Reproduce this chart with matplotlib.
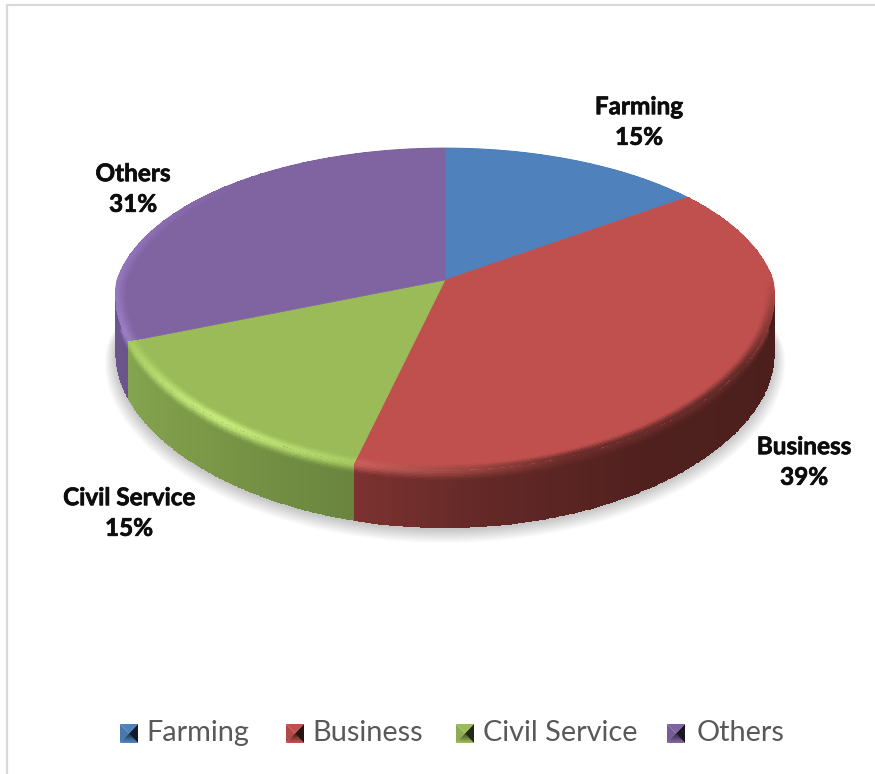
import matplotlib
matplotlib.use('Agg')
import matplotlib.pyplot as plt
import matplotlib.patheffects as pe
from matplotlib.colors import to_rgb
from matplotlib.patches import Polygon
import numpy as np

labels = ['Farming', 'Business', 'Civil Service', 'Others']
values = [15, 39, 15, 31]
top_colors = ['#4f81bd', '#c0504d', '#9bbb59', '#8064a2']

# colour along each slice's arc, clockwise: (position, colour)
rim_stops = {
    'Farming': [(0, '#4f81bd'), (1, '#4f81bd')],
    'Business': [(0, '#c0504d'), (0.25, '#c0504d'), (0.36, '#8a3936'), (0.48, '#622a28'), (0.75, '#6a2c2a'), (1, '#cc5f5b')],
    'Civil Service': [(0, '#a8cc62'), (0.45, '#c8ec7c'), (0.8, '#b4d86c'), (1, '#a8cc62')],
    'Others': [(0, '#9a7dc4'), (0.3, '#8f72b8'), (0.6, '#8064a2'), (1, '#8064a2')],
}
wall_stops = {
    'Farming': [(0, '#3a5f8c'), (1, '#3a5f8c')],
    'Business': [(0, '#4a1e1c'), (0.55, '#4f201e'), (0.8, '#622826'), (1, '#7c3230')],
    'Civil Service': [(0, '#6a843f'), (0.5, '#7a9847'), (1, '#86a54f')],
    'Others': [(0, '#6a5489'), (1, '#6f588f')],
}

label_pos = [(639, 122), (804, 462), (129, 513), (133, 189)]
legend_x = [120, 286, 456, 667]
legend_text_x = [146, 312, 483, 697]

W, H = 875, 774
CX, CY = 445, 280
K = 0.18
HY = 155.8
AX = 328.0
DEPTH = 58


def rim(theta, depth=0.0, scale=1.0):
    # perspective projection of a circle lying on the pie's top face
    c = np.cos(theta)
    w = 1 + K * c
    x = CX + scale * AX * np.sin(theta) / w ** np.where(c < 0, 0.55, 0.9)
    y = CY - scale * HY * c / w + depth
    return x, y


def ramp(u, stops):
    pos = [s[0] for s in stops]
    cols = np.array([to_rgb(s[1]) for s in stops])
    return np.stack([np.interp(u, pos, cols[:, i]) for i in range(3)], axis=-1)


def smooth(t):
    return t * t * (3 - 2 * t)


def draw_wall(ax, a0, a1, lo, hi, name):
    th = np.linspace(lo, hi, 200)
    t = np.linspace(0, 1, 41)
    T, D = np.meshgrid(th, t)
    x, y = rim(T, D * DEPTH)
    tc = (th[:-1] + th[1:]) / 2
    base = ramp((tc - lo) / (hi - lo), wall_stops[name])
    edge = ramp((tc - a0) / (a1 - a0), rim_stops[name])
    v = (t[:-1] + t[1:]) / 2
    fade = smooth(np.clip(v / 0.2, 0, 1))[:, None, None]
    rgb = edge[None, :, :] * (1 - fade) + base[None, :, :] * fade
    ax.pcolormesh(x, y, rgb, shading='flat', linewidth=0, zorder=3)


def draw_bevel(ax, a0, a1, name, top):
    # rounded edge of the top face, blending into the flat colour
    th = np.linspace(a0, a1, 200)
    s = np.linspace(0.962, 1.0, 16)
    T, S = np.meshgrid(th, s)
    x, y = rim(T, 0, S)
    tc = (th[:-1] + th[1:]) / 2
    edge = ramp((tc - a0) / (a1 - a0), rim_stops[name])
    v = smooth(np.linspace(0, 1, 15))[:, None, None]
    flat = np.array(to_rgb(top))
    rgb = flat * (1 - v) + edge[None, :, :] * v
    ax.pcolormesh(x, y, rgb, shading='flat', linewidth=0, zorder=5)


def draw_key(ax, x, y, color, size=18, tall=19):
    c = np.array(to_rgb(color))
    mx, my = x + size / 2, y + tall / 2
    ax.add_patch(Polygon([(x, y), (mx, my), (x, y + tall)], fc=c * 0.92, ec='none', zorder=4))
    ax.add_patch(Polygon([(x, y), (mx, my), (x + size, y)], fc=c, ec='none', zorder=4))
    ax.add_patch(Polygon([(x + size, y), (mx, my), (x + size, y + tall)], fc=c * 0.22, ec='none', zorder=4))
    # bottom facet gets lighter towards its outer edge
    for i, f in enumerate(np.linspace(0.45, 1.0, 6)):
        d = (i + 1) / 6
        ax.add_patch(Polygon([(x + (mx - x) * (1 - d), my + (y + tall - my) * d),
                              (mx, my),
                              (x + size - (mx - x) * (1 - d), my + (y + tall - my) * d)],
                             fc=c * f, ec='none', zorder=4 - d / 2))


fig = plt.figure(figsize=(W / 100, H / 100), dpi=100)
ax = fig.add_axes([0, 0, 1, 1])
ax.set_xlim(0, W)
ax.set_ylim(H, 0)
ax.axis('off')

# chart frame
ax.plot([6.5, 6.5, W], [H, 5, 5], color='#d9d9d9', lw=1.6, zorder=1)

# soft shadow below the pie
th = np.linspace(0, 2 * np.pi, 300)
for grow, drop in zip(np.linspace(1.032, 1.0, 14), np.linspace(9, 2, 14)):
    x, y = rim(th, DEPTH + drop, grow)
    ax.add_patch(Polygon(np.column_stack([x, y]), fc='#000000', alpha=0.014, ec='none', zorder=2))

fracs = np.array(values) / sum(values)
edges = np.r_[0, np.cumsum(fracs)] * 2 * np.pi

# walls show only on the front half of the rim
for i, name in enumerate(labels):
    a0, a1 = edges[i], edges[i + 1]
    lo, hi = max(a0, np.pi / 2 - 0.1), min(a1, 3 * np.pi / 2 + 0.3)
    if lo < hi:
        draw_wall(ax, a0, a1, lo, hi, name)

# top face
for i, name in enumerate(labels):
    a = np.linspace(edges[i], edges[i + 1], 150)
    x, y = rim(a)
    ax.add_patch(Polygon(np.column_stack([np.r_[CX, x], np.r_[CY, y]]), fc=top_colors[i],
                         ec=top_colors[i], lw=0.5, zorder=4))
    draw_bevel(ax, edges[i], edges[i + 1], name, top_colors[i])

font = ['Lato', 'DejaVu Sans']
thicker = [pe.withStroke(linewidth=0.5, foreground='#0d0d0d')]
for name, v, (x, y) in zip(labels, values, label_pos):
    ax.text(x, y, '{}\n{}%'.format(name, v), ha='center', va='center', fontsize=17.5,
            fontweight='bold', family=font, color='#0d0d0d', linespacing=1.4, zorder=6,
            path_effects=thicker)

for name, color, x, tx in zip(labels, top_colors, legend_x, legend_text_x):
    draw_key(ax, x, 724, color)
    ax.text(tx, 733, name, ha='left', va='center', fontsize=20.8, family=font,
            color='#595959', zorder=6)

fig.savefig('out.png', dpi=100)
